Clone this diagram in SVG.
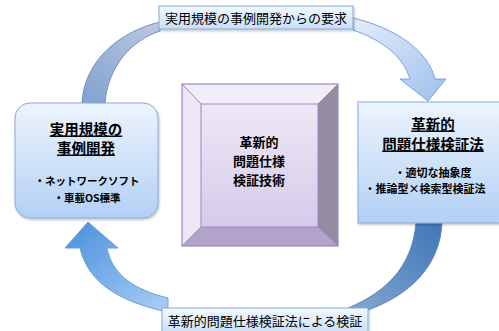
<svg xmlns="http://www.w3.org/2000/svg" width="499" height="331" viewBox="0 0 499 331">
<defs>
<linearGradient id="gNode" x1="0" y1="0" x2="0" y2="1"><stop offset="0" stop-color="#edf4fd"/><stop offset="1" stop-color="#b2d0f5"/></linearGradient>
<linearGradient id="gLabel" x1="0" y1="0" x2="0" y2="1"><stop offset="0" stop-color="#f3f8fe"/><stop offset="1" stop-color="#c9def7"/></linearGradient>
<linearGradient id="gFace" x1="0" y1="0" x2="0" y2="1"><stop offset="0" stop-color="#ede8f6"/><stop offset="1" stop-color="#d6caea"/></linearGradient>
<linearGradient id="gA1" gradientUnits="userSpaceOnUse" x1="93" y1="103" x2="160" y2="26"><stop offset="0" stop-color="#84a4d2"/><stop offset="1" stop-color="#bcc7dd"/></linearGradient>
<linearGradient id="gA2" gradientUnits="userSpaceOnUse" x1="353" y1="24" x2="425" y2="100"><stop offset="0" stop-color="#e2ecfa"/><stop offset="1" stop-color="#a6c6ef"/></linearGradient>
<linearGradient id="gA3" gradientUnits="userSpaceOnUse" x1="90" y1="222" x2="165" y2="310"><stop offset="0" stop-color="#5696de"/><stop offset="1" stop-color="#a6cdf5"/></linearGradient>
<linearGradient id="gA4" gradientUnits="userSpaceOnUse" x1="430" y1="223" x2="350" y2="310"><stop offset="0" stop-color="#4579ba"/><stop offset="1" stop-color="#82a6d0"/></linearGradient>
<filter id="sh" x="-10%" y="-10%" width="130%" height="140%"><feDropShadow dx="1" dy="1.5" stdDeviation="1.2" flood-color="#000" flood-opacity="0.25"/></filter>
</defs>
<style>
.t{font-family:"Noto Sans CJK JP","Noto Sans CJK SC",sans-serif;fill:#000;text-anchor:middle;dominant-baseline:central}
.b{font-weight:bold}
.u{text-decoration:underline}
.node{stroke:#86abdb;stroke-width:1}
.lab{fill:url(#gLabel);stroke:#86abdb;stroke-width:1}
.arr{stroke-width:1}
</style>
<g id="connectors">
<path class="arr" d="M82,103 C84,62 118,32 160,22 L160,31 C132,40 108,66 105,103 Z" fill="url(#gA1)" stroke="#6f94c6"/>
<path class="arr" d="M353,18 C395,28 428,50 435,79 L446,79 L428,101 L400,79 L410,79 C403,56 382,40 353,30 Z" fill="url(#gA2)" stroke="#7aa2d6"/>
<path class="arr" d="M80,248 C88,283 120,302 168,312 L168,298 C135,290 112,275 107,248 L118,248 L88,222 L65,248 Z" fill="url(#gA3)" stroke="#6a9fdc"/>
<path class="arr" d="M416,223 L442,223 C440,264 412,296 362,312 L338,312 C385,295 412,268 416,223 Z" fill="url(#gA4)" stroke="#5d86bb"/>
</g>
<g id="label-top">
<rect class="lab" x="159" y="6" width="194" height="23" filter="url(#sh)"/>
<text class="t" x="256" y="17.5" font-size="13">実用規模の事例開発からの要求</text>
</g>
<g id="label-bottom">
<rect class="lab" x="162" y="308" width="206" height="26" filter="url(#sh)"/>
<text class="t" x="265" y="320" font-size="13">革新的問題仕様検証法による検証</text>
</g>
<g id="node-left">
<rect class="node" x="15" y="103" width="143" height="115" rx="15" fill="url(#gNode)" filter="url(#sh)"/>
<text class="t b u" x="86" y="128" font-size="14.5">実用規模の</text>
<text class="t b u" x="86" y="147" font-size="14.5">事例開発</text>
<text class="t b" x="87" y="180" font-size="10.5">・ネットワークソフト</text>
<text class="t b" x="87" y="197" font-size="10.5">・車載OS標準</text>
</g>
<g id="node-center">
<polygon points="182,84 338,84 318,104 201,104" fill="#f2eef9"/>
<polygon points="182,84 201,104 201,227 182,246" fill="#ece6f6"/>
<polygon points="338,84 338,246 318,227 318,104" fill="#958ca4"/>
<polygon points="182,246 201,227 318,227 338,246" fill="#b2a3c9"/>
<rect x="201" y="104" width="117" height="123" fill="url(#gFace)" stroke="#9c88c3" stroke-width="1"/>
<g stroke="#9c88c3" stroke-width="1"><line x1="182" y1="84" x2="201" y2="104"/><line x1="338" y1="84" x2="318" y2="104"/><line x1="182" y1="246" x2="201" y2="227"/><line x1="338" y1="246" x2="318" y2="227"/></g>
<rect x="182" y="84" width="156" height="162" fill="none" stroke="#9c88c3" stroke-width="1.2"/>
<text class="t b" x="259" y="141" font-size="13">革新的</text>
<text class="t b" x="259" y="160" font-size="13">問題仕様</text>
<text class="t b" x="259" y="179" font-size="13">検証技術</text>
</g>
<g id="node-right">
<rect class="node" x="358" y="102" width="150" height="121" fill="url(#gNode)" filter="url(#sh)"/>
<text class="t b u" x="433" y="123" font-size="14.5">革新的</text>
<text class="t b u" x="433" y="143" font-size="14.5">問題仕様検証法</text>
<text class="t b" x="433" y="172" font-size="11">・適切な抽象度</text>
<text class="t b" x="425" y="188" font-size="11">・推論型×検索型検証法</text>
</g>
</svg>
